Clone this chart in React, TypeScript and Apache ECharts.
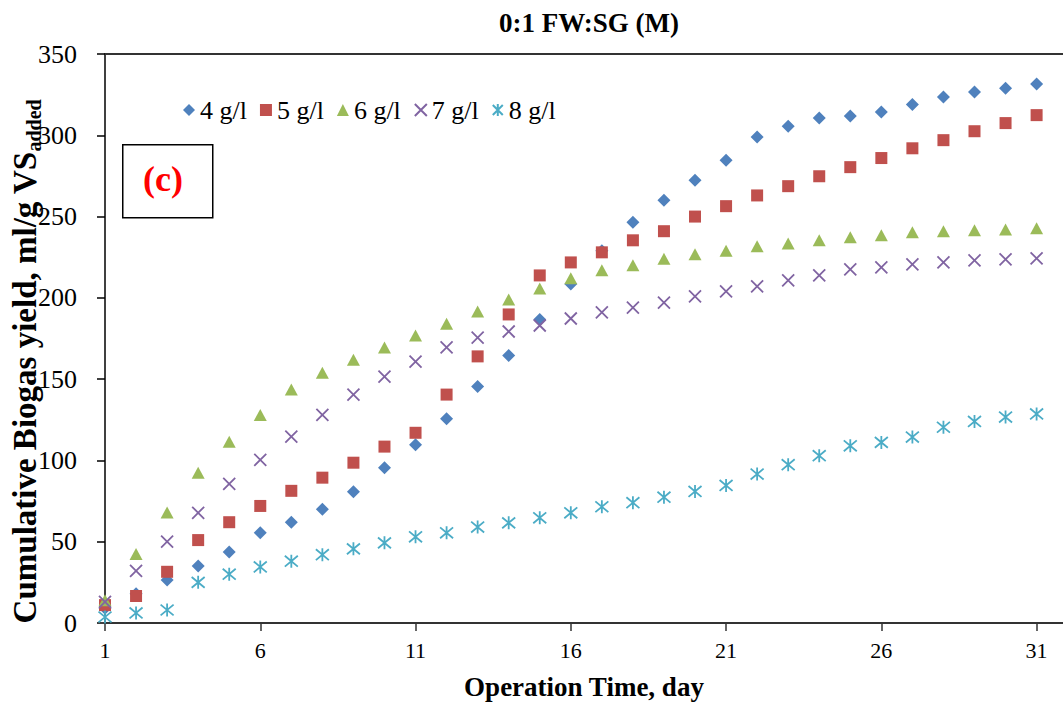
import React, { useEffect, useRef } from "react";
import * as echarts from "echarts";

const FONT = "'Liberation Serif', 'Times New Roman', serif";

const days = [1, 2, 3, 4, 5, 6, 7, 8, 9, 10, 11, 12, 13, 14, 15, 16, 17, 18, 19, 20, 21, 22, 23, 24, 25, 26, 27, 28, 29, 30, 31];
const xTicks = [1, 6, 11, 16, 21, 26, 31];
const seriesNames = ["4 g/l", "5 g/l", "6 g/l", "7 g/l", "8 g/l"];

const g4 = [9, 18, 26.5, 35, 43.7, 55.5, 62, 70, 80.7, 95.5, 109.7, 125.7, 145.4, 164.5, 186.7, 208.5, 229, 246.5, 260, 272.4, 284.7, 298.9, 305.6, 310.6, 311.8, 314.3, 319, 323.5, 326.6, 329, 331.5];
const g5 = [11, 16.6, 31.5, 51, 62, 72, 81.3, 89.4, 98.6, 108.5, 117, 140.5, 164, 189.8, 213.8, 221.8, 228, 235.4, 241, 250, 256.4, 263, 268.7, 274.8, 280.4, 286, 292, 297, 302.5, 307.5, 312.4];
const g6 = [14, 42.5, 68, 92.4, 111.5, 128, 143.6, 154, 162, 169.5, 176.9, 184, 191.6, 199, 205.8, 212, 217, 220, 224, 226.8, 229, 231.7, 233.5, 235.4, 237.3, 238.5, 240.3, 241, 241.6, 242, 242.8];
const g7 = [13, 32, 50, 67.8, 85.6, 100.4, 114.6, 128, 140.5, 151.6, 160.8, 169.5, 175.6, 179.3, 183, 187.3, 191, 194, 197, 200.9, 204, 207, 210.7, 213.8, 217.5, 218.8, 220.6, 221.8, 223, 223.7, 224.3];
const g8 = [3.7, 6.2, 8, 25, 30, 34.5, 38, 42, 45.6, 49.3, 53, 55.5, 59, 61.6, 64.7, 67.8, 71.5, 74, 77.4, 80.9, 84.6, 91.6, 97.4, 102.9, 109, 111.1, 114.4, 120.4, 124, 126.7, 128.6];

const seriesValues = [g4, g5, g6, g7, g8];
const colors = ["#4F81BD", "#C0504D", "#9BBB59", "#8064A2", "#4BACC6"];

const CROSS = "path://M0,0L10,10M10,0L0,10";
const STAR = "path://M0,0L10,10M10,0L0,10M5,-1L5,11";

export default function App() {
  const ref = useRef<HTMLDivElement>(null);
  useEffect(() => {
    if (!ref.current) return;
    const chart = echarts.init(ref.current, undefined, { renderer: "svg" });
    const symbols = ["diamond", "rect", "triangle", CROSS, STAR];
    const sizes: any[] = [13, 12, [13, 12], 12, 13];
    const series = seriesValues.map((vals, i) => {
      const isPath = i >= 3;
      return {
        name: seriesNames[i],
        type: "scatter",
        xAxisIndex: 0,
        data: days.map((d, k) => [d, vals[k]]),
        symbol: symbols[i],
        symbolSize: sizes[i],
        itemStyle: isPath
          ? { color: colors[i], borderColor: colors[i], borderWidth: 1.8, opacity: 1 }
          : { color: colors[i], opacity: 1 },
        z: 2 + i,
      };
    });
    const option: any = {
      animation: false,
      textStyle: { fontFamily: FONT },
      title: {
        text: "0:1 FW:SG (M)",
        left: 584,
        top: 4,
        textAlign: "center",
        textStyle: { fontSize: 27, fontWeight: "bold", color: "#000", fontFamily: FONT },
      },
      legend: {
        left: 178,
        top: 92,
        itemWidth: 12,
        itemHeight: 12,
        itemGap: 13,
        data: seriesNames,
        textStyle: { fontSize: 26, color: "#000", fontFamily: FONT },
      },
      grid: { left: 105, right: 0, top: 54, bottom: 83, outerBoundsMode: "none" },
      xAxis: [
        {
          type: "value",
          min: 1,
          max: 31.85,
          position: "bottom",
          axisLine: { show: true, onZero: false, lineStyle: { color: "#333", width: 2 } },
          axisTick: { show: true, customValues: xTicks, length: 8, lineStyle: { color: "#333", width: 1.5 } },
          axisLabel: { customValues: xTicks, fontSize: 22, margin: 16, color: "#000", fontFamily: FONT },
          splitLine: { show: false },
          name: "Operation Time, day",
          nameLocation: "middle",
          nameGap: 50,
          nameMoveOverlap: false,
          nameTextStyle: { fontSize: 27, fontWeight: "bold", color: "#000", fontFamily: FONT },
        },
        {
          type: "value",
          min: 1,
          max: 31.85,
          position: "top",
          axisLine: { show: true, onZero: false, lineStyle: { color: "#333", width: 2 } },
          axisTick: { show: false },
          axisLabel: { show: false },
          splitLine: { show: false },
        },
      ],
      yAxis: {
        type: "value",
        min: 0,
        max: 350,
        interval: 50,
        axisLine: { show: true, onZero: false, lineStyle: { color: "#000", width: 1.5 } },
        axisTick: { show: true, length: 8, lineStyle: { color: "#000", width: 1.5 } },
        axisLabel: { fontSize: 26, margin: 28, color: "#000", fontFamily: FONT },
        splitLine: { show: false },
        name: "{m|Cumulative Biogas yield, ml/g VS}{s|added}",
        nameLocation: "middle",
        nameRotate: 90,
        nameGap: 61,
        nameMoveOverlap: false,
        nameTextStyle: {
          color: "#000",
          fontFamily: FONT,
          fontWeight: "bold",
          fontSize: 33,
          padding: [0, 46, 0, 0],
          rich: {
            m: { fontSize: 33, fontWeight: "bold", fontFamily: FONT, color: "#000", lineHeight: 36, verticalAlign: "top" },
            s: { fontSize: 20, fontWeight: "bold", fontFamily: FONT, color: "#000", lineHeight: 17, padding: [8, 0, 0, 0], verticalAlign: "bottom" },
          },
        },
      },
      graphic: [
        {
          type: "rect",
          left: 122,
          top: 144,
          shape: { width: 90, height: 73 },
          style: { fill: "#fff", stroke: "#000", lineWidth: 1.5 },
        },
        {
          type: "text",
          x: 163,
          y: 179,
          style: {
            text: "(c)",
            fill: "#FF0000",
            fontSize: 36,
            fontWeight: "bold",
            fontFamily: FONT,
            align: "center",
            verticalAlign: "middle",
          },
        },
      ],
      series,
    };
    chart.setOption(option);
    return () => chart.dispose();
  }, []);
  return (
    <div
      ref={ref}
      style={{ position: "fixed", left: 0, top: 0, width: 1063, height: 706, background: "#fff" }}
    />
  );
}
